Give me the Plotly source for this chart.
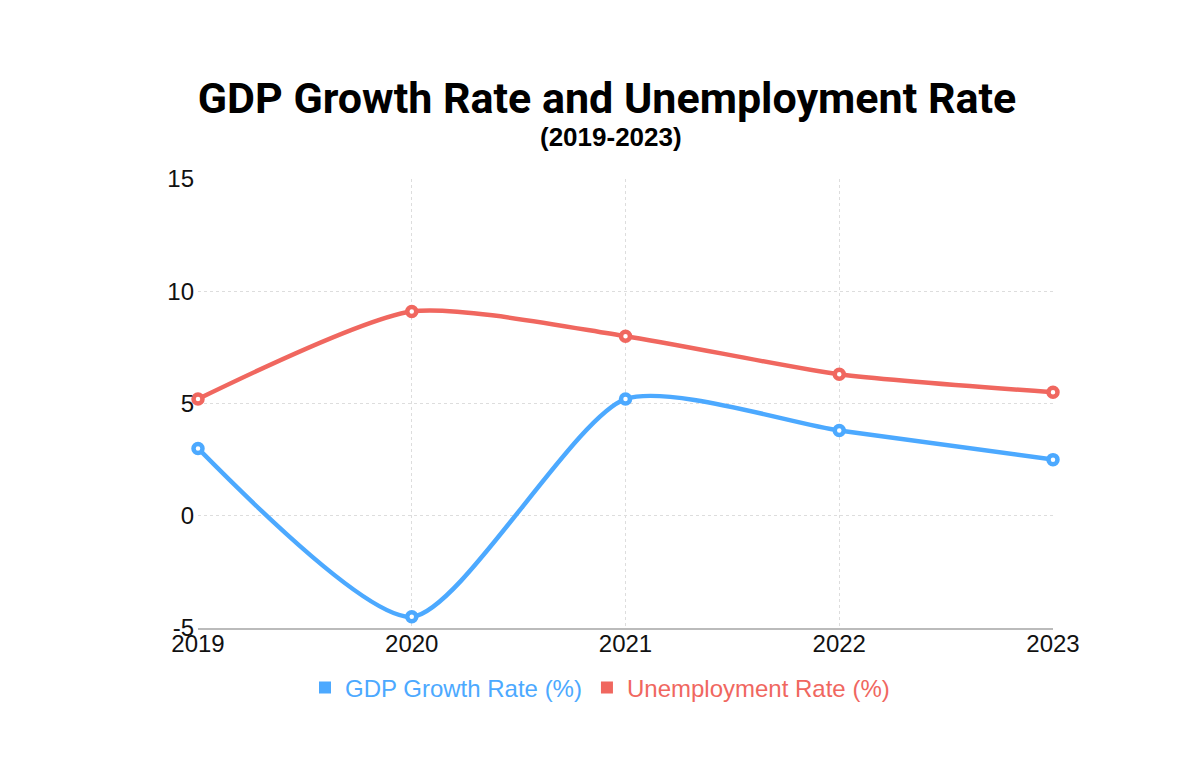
import plotly.graph_objects as go

years = [2019, 2020, 2021, 2022, 2023]
gdp_growth = [3.0, -4.5, 5.2, 3.8, 2.5]
unemployment = [5.2, 9.1, 8.0, 6.3, 5.5]
y_ticks = [-5, 0, 5, 10, 15]
y_tick_labels = ["-5", "0", "5", "10", "15"]

blue = "#4CA9FF"
red = "#F0675F"

W, H = 1192, 763  # page body has an 8px margin
L, R, T, B = 190, 147, 171, 143

fig = go.Figure()
for name, vals, col in [("GDP Growth Rate (%)", gdp_growth, blue),
                        ("Unemployment Rate (%)", unemployment, red)]:
    fig.add_trace(go.Scatter(
        x=years, y=vals, mode="lines+markers", name=name,
        line=dict(color=col, width=4.5, shape="spline", smoothing=0.65),
        marker=dict(symbol="circle", size=9, color="white",
                    line=dict(color=col, width=4.5)),
        cliponaxis=False, showlegend=False, legendgroup=name,
    ))
    fig.add_trace(go.Scatter(
        x=[None], y=[None], mode="markers", legendgroup=name,
        name=f"<span style='color:{col}'>{name}</span>",
        marker=dict(symbol="square", size=16, color=col),
    ))

pw = W - L - R
ph = H - T - B
fig.update_layout(
    width=W, height=H,
    paper_bgcolor="white", plot_bgcolor="white",
    margin=dict(l=L, r=R, t=T, b=B),
    font=dict(family="Liberation Sans, Arial, sans-serif", color="#111111"),
    title=dict(text="<b>GDP Growth Rate and Unemployment Rate</b>",
               x=(607 - 8) / W, xanchor="center", y=1 - (98 - 8) / H, yanchor="middle",
               font=dict(family="Roboto, Liberation Sans, sans-serif", size=43, color="black")),
    annotations=[dict(text="<b>(2019-2023)</b>", xref="paper", yref="paper",
                      x=(611 - 8 - L) / pw, y=1 + (171 - (137 - 8)) / ph,
                      xanchor="center", yanchor="middle", showarrow=False,
                      font=dict(family="Liberation Sans, Arial, sans-serif", size=26, color="black"))],
    showlegend=True,
    legend=dict(orientation="h", x=(600 - 8 - L) / pw, xanchor="center",
                y=(628 - 688) / ph, yanchor="middle",
                font=dict(size=24), itemsizing="constant"),
)
fig.update_xaxes(
    range=[2019, 2023], tickvals=years, ticktext=[str(y) for y in years],
    showgrid=True, gridcolor="#DDDDDD", griddash="dot", gridwidth=1,
    showline=True, linecolor="#BBBBBB", linewidth=1.5,
    tickfont=dict(size=24, color="#111111"), zeroline=False, ticks="", ticklen=0,
    ticklabelstandoff=-7,
)
fig.update_yaxes(
    range=[-5, 15], tickvals=y_ticks, ticktext=y_tick_labels,
    showgrid=True, gridcolor="#DDDDDD", griddash="dot", gridwidth=1,
    showline=False, zeroline=False,
    tickfont=dict(size=24, color="#111111"), ticks="", ticklabelstandoff=3,
)

fig.write_html("out.html")
